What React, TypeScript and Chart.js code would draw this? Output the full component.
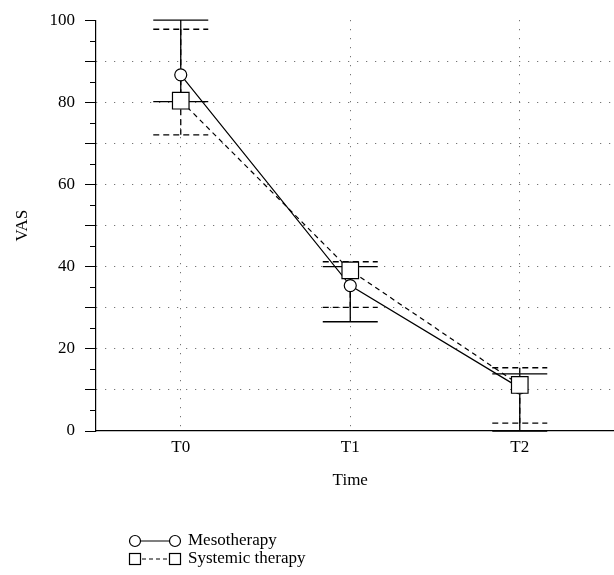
import React, { useEffect, useRef } from 'react';
import { Chart, registerables } from 'chart.js';

Chart.register(...registerables);

const categories = ['T0', 'T1', 'T2'];
const seriesNames = ['Mesotherapy', 'Systemic therapy'];
const xTitle = 'Time';
const yTitle = 'VAS';
const mesoMean = [86.7, 35.4, 10.5];
const mesoUpper = [100, 40, 13.9];
const mesoLower = [80.2, 26.6, 0];
const sysMean = [80.4, 39.1, 11.2];
const sysUpper = [97.8, 41.2, 15.4];
const sysLower = [72.1, 30.1, 1.9];
const yLabelStep = 20;
const yMinorTicks = [5, 15, 25, 35, 45, 55, 65, 75, 85, 95];

const FONT = '"Liberation Serif", "Times New Roman", serif';
const FS = 17;

const errorBarPlugin = {
  id: 'errorBars',
  beforeDatasetsDraw(chart: any) {
    const { ctx, scales } = chart;
    const xs = scales.x;
    const ys = scales.y;
    const series = [
      { upper: mesoUpper, lower: mesoLower, dash: [] as number[] },
      { upper: sysUpper, lower: sysLower, dash: [6, 4] },
    ];
    ctx.save();
    ctx.strokeStyle = '#000';
    ctx.lineWidth = 1.3;
    series.forEach((s) => {
      ctx.setLineDash(s.dash);
      categories.forEach((_, i) => {
        const x = xs.getPixelForValue(i);
        const yu = ys.getPixelForValue(s.upper[i]);
        const yl = ys.getPixelForValue(s.lower[i]);
        const hw = 27.5;
        ctx.beginPath();
        ctx.moveTo(x, yu);
        ctx.lineTo(x, yl);
        ctx.moveTo(x - hw, yu);
        ctx.lineTo(x + hw, yu);
        ctx.moveTo(x - hw, yl);
        ctx.lineTo(x + hw, yl);
        ctx.stroke();
      });
    });
    ctx.restore();
  },
  afterDraw(chart: any) {
    const { ctx, scales } = chart;
    const ys = scales.y;
    const xs = scales.x;
    const left = chart.chartArea.left;
    ctx.save();
    ctx.strokeStyle = '#000';
    ctx.lineWidth = 1;
    ctx.setLineDash([]);
    yMinorTicks.forEach((v) => {
      const y = Math.round(ys.getPixelForValue(v)) + 0.5;
      ctx.beginPath();
      ctx.moveTo(left - 6, y);
      ctx.lineTo(left, y);
      ctx.stroke();
    });

    ctx.font = FS + 'px ' + FONT;
    ctx.fillStyle = '#000';
    ctx.textBaseline = 'middle';
    ctx.textAlign = 'center';
    ctx.fillText(xTitle, xs.getPixelForValue(1), 481);

    // legend
    const lx1 = 135;
    const lx2 = 175;
    const rows = [541, 559];
    ctx.textAlign = 'left';
    ctx.lineWidth = 1.2;
    ctx.beginPath();
    ctx.moveTo(lx1, rows[0]);
    ctx.lineTo(lx2, rows[0]);
    ctx.stroke();
    [lx1, lx2].forEach((x) => {
      ctx.beginPath();
      ctx.arc(x, rows[0], 5.5, 0, Math.PI * 2);
      ctx.fillStyle = '#fff';
      ctx.fill();
      ctx.stroke();
    });
    ctx.setLineDash([4, 3]);
    ctx.beginPath();
    ctx.moveTo(lx1, rows[1]);
    ctx.lineTo(lx2, rows[1]);
    ctx.stroke();
    ctx.setLineDash([]);
    [lx1, lx2].forEach((x) => {
      ctx.fillStyle = '#fff';
      ctx.fillRect(x - 5.5, rows[1] - 5.5, 11, 11);
      ctx.strokeRect(x - 5.5, rows[1] - 5.5, 11, 11);
    });
    ctx.fillStyle = '#000';
    ctx.fillText(seriesNames[0], 188, rows[0]);
    ctx.fillText(seriesNames[1], 188, rows[1]);
    ctx.restore();
  },
};

export default function App() {
  const ref = useRef<HTMLCanvasElement | null>(null);
  useEffect(() => {
    if (!ref.current) return;
    const chart = new Chart(ref.current, {
      type: 'line',
      data: {
        datasets: [
          {
            label: seriesNames[0],
            data: mesoMean.map((v, i) => ({ x: i, y: v })),
            borderColor: '#000',
            borderWidth: 1.2,
            pointStyle: 'circle',
            pointRadius: 6,
            pointBackgroundColor: '#fff',
            pointBorderColor: '#000',
            pointBorderWidth: 1.2,
            order: 2,
          },
          {
            label: seriesNames[1],
            data: sysMean.map((v, i) => ({ x: i, y: v })),
            borderColor: '#000',
            borderWidth: 1.2,
            borderDash: [5, 4],
            pointStyle: 'rect',
            pointRadius: 11.7,
            pointBackgroundColor: '#fff',
            pointBorderColor: '#000',
            pointBorderWidth: 1.2,
            order: 1,
          },
        ],
      },
      options: {
        responsive: false,
        animation: false,
        devicePixelRatio: 1,
        layout: { autoPadding: false, padding: { left: 0, right: 1, top: 16, bottom: 85 } },
        plugins: {
          legend: { display: false },
          tooltip: { enabled: false },
        },
        scales: {
          x: {
            type: 'linear',
            min: -0.5,
            max: 2.55,
            afterBuildTicks: (s: any) => {
              s.ticks = categories.map((_, i) => ({ value: i }));
            },
            afterFit: (s: any) => {
              s.height = 59;
              s.paddingLeft = 0;
              s.paddingRight = 0;
            },
            ticks: {
              callback: (v: any) => categories[Math.round(Number(v))] ?? '',
              color: '#000',
              font: { family: FONT, size: FS },
              padding: 6,
              maxRotation: 0,
            },
            grid: {
              color: '#555',
              lineWidth: 1,
              drawTicks: false,
              tickLength: 0,
            },
            border: { display: true, color: '#000', width: 1.2, dash: [1, 8] },
            title: { display: false },
          },
          y: {
            min: 0,
            max: 100,
            ticks: {
              stepSize: 10,
              callback: (v: any) => (Number(v) % yLabelStep === 0 ? String(v) : ''),
              color: '#000',
              font: { family: FONT, size: FS },
              padding: 10,
            },
            afterFit: (s: any) => {
              s.width = 96;
            },
            grid: {
              color: (c: any) =>
                c.tick && (c.tick.value === 0 || c.tick.value === 100) ? 'rgba(0,0,0,0)' : '#555',
              lineWidth: 1,
              drawTicks: true,
              tickLength: 11,
              tickColor: '#000',
              tickWidth: 1,
            },
            border: { display: true, color: '#000', width: 1.2, dash: [1, 8] },
            title: {
              display: true,
              text: yTitle,
              color: '#000',
              font: { family: FONT, size: FS },
              padding: { top: 12, bottom: 0 },
            },
          },
        },
      },
      plugins: [errorBarPlugin],
    } as any);
    return () => chart.destroy();
  }, []);
  return (
    <div style={{ position: 'absolute', left: 0, top: 0, width: 614, height: 575, background: '#fff' }}>
      <canvas ref={ref} width={614} height={575} style={{ width: 614, height: 575, display: 'block' }} />
    </div>
  );
}
